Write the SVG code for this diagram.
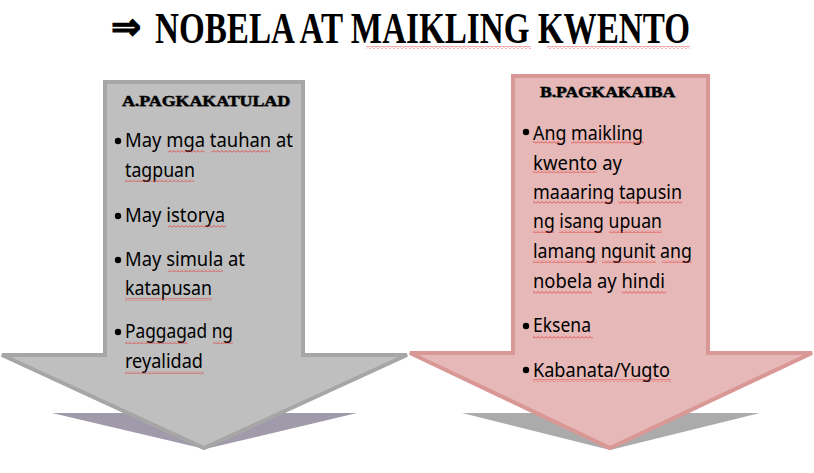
<svg xmlns="http://www.w3.org/2000/svg" width="814" height="473" viewBox="0 0 814 473">
<defs>
<pattern id="wavy" width="4" height="3" patternUnits="userSpaceOnUse">
<path d="M0,2.5 L2,0.5 L4,2.5" fill="none" stroke="#e0322f" stroke-width="0.8"/>
</pattern>
<style>
.title{font-family:"Liberation Serif",serif;font-weight:bold;font-size:33px;fill:#000}
.head{font-family:"Liberation Serif",serif;font-weight:900;font-size:15px;fill:#000;stroke:#000;stroke-width:0.4}
.headsh{font-family:"Liberation Serif",serif;font-weight:900;font-size:15px;fill:#8c8c8c}
.body{font-family:"Noto Sans","Open Sans",sans-serif;font-size:19px;fill:#000}
.sp{fill:url(#wavy)}
.bul{fill:#000}
</style>
</defs>
<rect width="814" height="473" fill="#fff"/>

<g id="title">
<text x="111" y="39" font-family="DejaVu Sans,sans-serif" font-weight="bold" font-size="36" fill="#000" stroke="#000" stroke-width="1.2">⇒</text>
<g transform="translate(155,43) scale(1,1.36)">
<text class="title" x="0" y="0" textLength="535" lengthAdjust="spacingAndGlyphs">NOBELA AT MAIKLING KWENTO</text>
</g>
<rect class="sp" x="366" y="46" width="165" height="3"/>
<rect class="sp" x="547" y="46" width="143" height="3"/>
</g>

<g id="connectors"></g>

<g id="node-a">
<polygon points="52,413 357,413 205,449" fill="#a09aab"/>
<polygon points="105,82 303,82 303,355 407,355 204,448 2,355 105,355" fill="#bfbfbf" stroke="#a6a6a6" stroke-width="4" stroke-linejoin="miter"/>
<text class="headsh" x="123" y="107" textLength="168" lengthAdjust="spacingAndGlyphs">A.PAGKAKATULAD</text>
<text class="head" x="122" y="106" textLength="168" lengthAdjust="spacingAndGlyphs">A.PAGKAKATULAD</text>
<circle class="bul" cx="118" cy="141" r="3.2"/>
<text class="body" x="125" y="147" textLength="168" lengthAdjust="spacingAndGlyphs">May mga tauhan at</text>
<text class="body" x="125" y="177" textLength="70" lengthAdjust="spacingAndGlyphs">tagpuan</text>
<circle class="bul" cx="118" cy="216" r="3.2"/>
<text class="body" x="125" y="222" textLength="100" lengthAdjust="spacingAndGlyphs">May istorya</text>
<circle class="bul" cx="118" cy="260" r="3.2"/>
<text class="body" x="125" y="266" textLength="120" lengthAdjust="spacingAndGlyphs">May simula at</text>
<text class="body" x="125" y="295" textLength="87" lengthAdjust="spacingAndGlyphs">katapusan</text>
<circle class="bul" cx="118" cy="332" r="3.2"/>
<text class="body" x="125" y="338" textLength="108" lengthAdjust="spacingAndGlyphs">Paggagad ng</text>
<text class="body" x="125" y="368" textLength="78" lengthAdjust="spacingAndGlyphs">reyalidad</text>
<rect class="sp" x="168" y="150" width="37" height="3"/>
<rect class="sp" x="211" y="150" width="59" height="3"/>
<rect class="sp" x="125" y="179" width="69" height="3"/>
<rect class="sp" x="168" y="225" width="58" height="3"/>
<rect class="sp" x="168" y="269" width="55" height="3"/>
<rect class="sp" x="125" y="298" width="87" height="3"/>
<rect class="sp" x="125" y="341" width="63" height="3"/>
<rect class="sp" x="213" y="341" width="20" height="3"/>
<rect class="sp" x="125" y="371" width="79" height="3"/>
</g>

<g id="node-b">
<polygon points="462,413 760,413 610,450" fill="#ababab"/>
<polygon points="513,76 708,76 708,353 812,353 610,448 410,353 513,353" fill="#e6b9b8" stroke="#d99795" stroke-width="4" stroke-linejoin="miter"/>
<text class="headsh" x="541" y="98" textLength="135" lengthAdjust="spacingAndGlyphs">B.PAGKAKAIBA</text>
<text class="head" x="540" y="97" textLength="135" lengthAdjust="spacingAndGlyphs">B.PAGKAKAIBA</text>
<circle class="bul" cx="526" cy="132" r="3.2"/>
<text class="body" x="533" y="140" textLength="110" lengthAdjust="spacingAndGlyphs">Ang maikling</text>
<text class="body" x="533" y="170" textLength="89" lengthAdjust="spacingAndGlyphs">kwento ay</text>
<text class="body" x="533" y="199" textLength="149" lengthAdjust="spacingAndGlyphs">maaaring tapusin</text>
<text class="body" x="533" y="228" textLength="129" lengthAdjust="spacingAndGlyphs">ng isang upuan</text>
<text class="body" x="533" y="258" textLength="159" lengthAdjust="spacingAndGlyphs">lamang ngunit ang</text>
<text class="body" x="533" y="288" textLength="132" lengthAdjust="spacingAndGlyphs">nobela ay hindi</text>
<circle class="bul" cx="526" cy="326" r="3.2"/>
<text class="body" x="533" y="332" textLength="58" lengthAdjust="spacingAndGlyphs">Eksena</text>
<circle class="bul" cx="526" cy="370" r="3.2"/>
<text class="body" x="533" y="377" textLength="137" lengthAdjust="spacingAndGlyphs">Kabanata/Yugto</text>
<rect class="sp" x="533" y="141" width="27" height="3"/>
<rect class="sp" x="571" y="141" width="73" height="3"/>
<rect class="sp" x="533" y="170" width="64" height="3"/>
<rect class="sp" x="533" y="201" width="80" height="3"/>
<rect class="sp" x="618" y="201" width="64" height="3"/>
<rect class="sp" x="533" y="230" width="21" height="3"/>
<rect class="sp" x="559" y="230" width="43" height="3"/>
<rect class="sp" x="609" y="230" width="53" height="3"/>
<rect class="sp" x="533" y="260" width="64" height="3"/>
<rect class="sp" x="602" y="260" width="54" height="3"/>
<rect class="sp" x="662" y="260" width="30" height="3"/>
<rect class="sp" x="533" y="291" width="59" height="3"/>
<rect class="sp" x="622" y="291" width="44" height="3"/>
<rect class="sp" x="533" y="336" width="60" height="3"/>
<rect class="sp" x="533" y="379" width="138" height="3"/>
</g>
</svg>
